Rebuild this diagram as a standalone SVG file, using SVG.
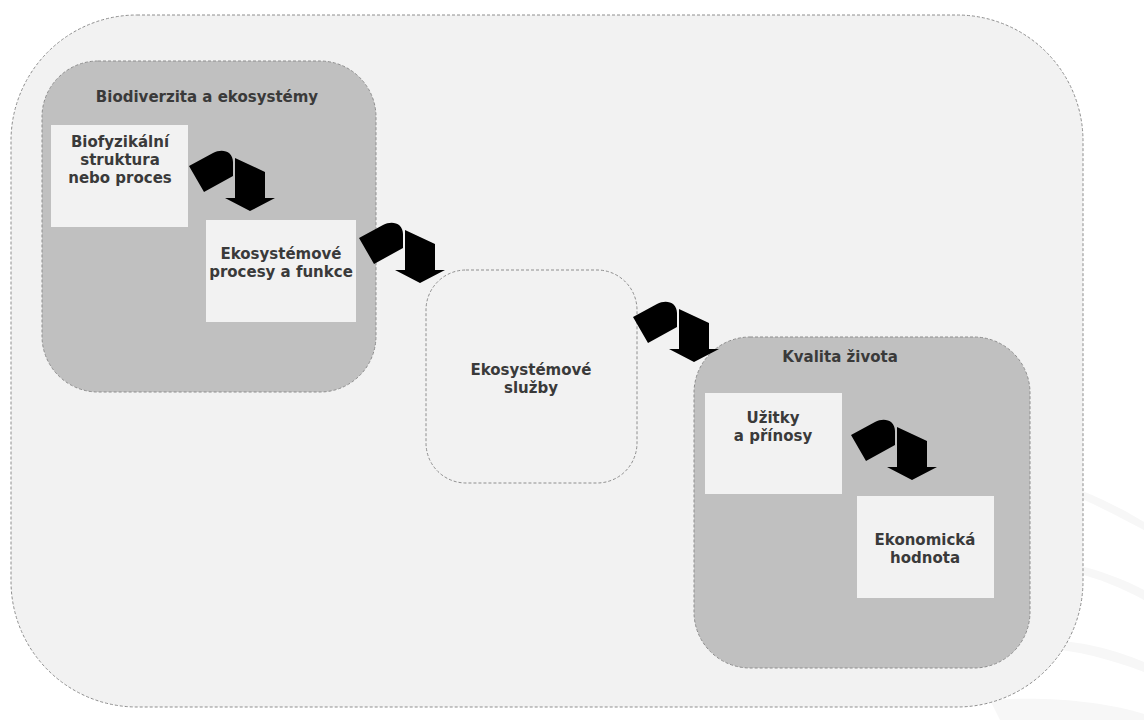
<svg xmlns="http://www.w3.org/2000/svg" width="1144" height="720" viewBox="0 0 1144 720">
  <style>
    .frame { stroke: #8e8e8e; stroke-width: 1; stroke-dasharray: 3 2; }
    .outer { fill: #f2f2f2; }
    .group { fill: #c0c0c0; }
    .card { fill: #f2f2f2; }
    .label { font-family: "DejaVu Sans", Verdana, sans-serif; font-weight: bold; font-size: 15px; fill: #3a3a3a; text-anchor: middle; }
    .swoosh { fill: #f7f7f7; }
  </style>
  <defs>
    <!-- bent block arrow: tilted tab followed by a downward arrow -->
    <g id="flow-arrow" fill="#000">
      <path d="M189,166 L213,153 C222,148 233,151 233,162 L233,176 L204,192 Z"/>
      <path d="M235,158 L265,172 L265,198 L275,198 L250,211 L225,198 L235,198 Z"/>
    </g>
  </defs>

  <rect width="1144" height="720" fill="#ffffff"/>

  <!-- faint background swooshes -->
  <g id="backdrop">
    <path class="swoosh" d="M1080,490 C1105,500 1128,512 1144,522 L1144,530 C1125,520 1102,508 1080,498 Z"/>
    <path class="swoosh" d="M1075,565 C1100,570 1125,580 1144,590 L1144,600 C1122,588 1098,578 1075,573 Z"/>
    <path class="swoosh" d="M1040,640 C1080,640 1115,650 1144,662 L1144,672 C1112,660 1078,650 1040,648 Z"/>
    <path class="swoosh" d="M990,700 C1050,696 1105,702 1144,714 L1144,720 L1000,720 Z"/>
  </g>

  <!-- whole-system container -->
  <g id="system">
    <rect class="outer frame" x="11" y="15" width="1072" height="692" rx="126" ry="126"/>
  </g>

  <g id="biodiversity">
    <rect class="group frame" x="42" y="61" width="334" height="331" rx="56" ry="56"/>
    <text class="label" x="207" y="102">Biodiverzita a ekosystémy</text>
  </g>

  <g id="biophysical">
    <rect class="card" x="51" y="125" width="137" height="102"/>
    <text class="label" x="120" y="147">Biofyzikální</text>
    <text class="label" x="120" y="165">struktura</text>
    <text class="label" x="120" y="183">nebo proces</text>
  </g>

  <g id="processes">
    <rect class="card" x="206" y="220" width="150" height="102"/>
    <text class="label" x="281" y="259">Ekosystémové</text>
    <text class="label" x="281" y="277">procesy a funkce</text>
  </g>

  <g id="services">
    <rect class="outer frame" x="426" y="270" width="211" height="213" rx="40" ry="40"/>
    <text class="label" x="531" y="375">Ekosystémové</text>
    <text class="label" x="531" y="393">služby</text>
  </g>

  <g id="quality-of-life">
    <rect class="group frame" x="694" y="337" width="336" height="331" rx="56" ry="56"/>
    <text class="label" x="840" y="362">Kvalita života</text>
  </g>

  <g id="benefits">
    <rect class="card" x="705" y="393" width="137" height="101"/>
    <text class="label" x="773" y="423">Užitky</text>
    <text class="label" x="773" y="441">a přínosy</text>
  </g>

  <g id="economic-value">
    <rect class="card" x="857" y="496" width="137" height="102"/>
    <text class="label" x="925" y="545">Ekonomická</text>
    <text class="label" x="925" y="563">hodnota</text>
  </g>

  <g id="connectors">
    <use href="#flow-arrow"/>
    <use href="#flow-arrow" transform="translate(170,72)"/>
    <use href="#flow-arrow" transform="translate(444,151)"/>
    <use href="#flow-arrow" transform="translate(662,269)"/>
  </g>
</svg>
